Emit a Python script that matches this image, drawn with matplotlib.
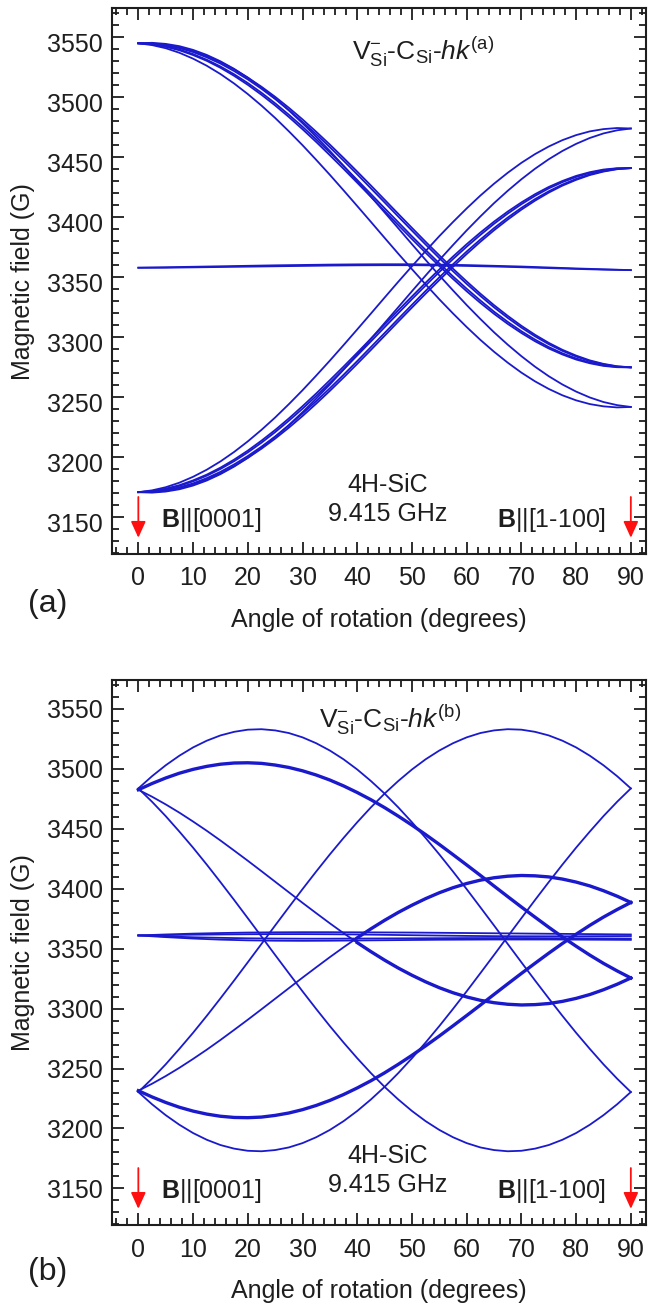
import matplotlib
matplotlib.use("Agg")
import matplotlib.pyplot as plt
from matplotlib.ticker import MultipleLocator
from matplotlib.transforms import ScaledTranslation

plt.rcParams['font.family'] = ['Liberation Sans', 'DejaVu Sans']
plt.rcParams['mathtext.fontset'] = 'custom'
plt.rcParams['mathtext.rm'] = 'Liberation Sans'
plt.rcParams['mathtext.it'] = 'Liberation Sans:italic'
plt.rcParams['mathtext.bf'] = 'Liberation Sans:bold'

# ---------------- data (angle in degrees, field in gauss) ----------------
angles_fine = [i * 2.5 for i in range(37)]      # 0, 2.5, ..., 90
angles_coarse = list(range(0, 91, 5))           # 0, 5, ..., 90

# panel (a): lines falling from B||c to B||[1-100]
a_down_303_1 = [3545.0, 3545.4, 3544.5, 3542.6, 3539.5, 3535.3, 3530.0, 3523.7, 3516.4, 3508.1,
                3499.0, 3489.1, 3478.4, 3467.1, 3455.3, 3442.9, 3430.2, 3417.3, 3404.1, 3390.9,
                3377.6, 3364.5, 3351.6, 3339.1, 3326.9, 3315.3, 3304.2, 3293.9, 3284.3, 3275.5,
                3267.6, 3260.7, 3254.8, 3249.9, 3246.1, 3243.5, 3242.0]
a_down_303_2 = [3545.0, 3543.5, 3540.9, 3537.1, 3532.2, 3526.3, 3519.4, 3511.5, 3502.7, 3493.1,
                3482.8, 3471.7, 3460.1, 3447.9, 3435.4, 3422.5, 3409.4, 3396.2, 3382.9, 3369.7,
                3356.8, 3344.1, 3331.7, 3319.9, 3308.6, 3297.9, 3288.0, 3278.9, 3270.6, 3263.3,
                3257.0, 3251.7, 3247.5, 3244.4, 3242.5, 3241.6, 3242.0]
a_down_270_1 = [3545.0, 3544.7, 3543.3, 3541.0, 3537.7, 3533.3, 3528.1, 3521.9, 3514.9, 3507.1,
                3498.6, 3489.4, 3479.5, 3469.2, 3458.4, 3447.2, 3435.8, 3424.1, 3412.4, 3400.6,
                3388.9, 3377.3, 3366.0, 3355.1, 3344.5, 3334.5, 3325.0, 3316.2, 3308.1, 3300.8,
                3294.3, 3288.7, 3284.0, 3280.2, 3277.5, 3275.7, 3275.0]
a_down_270_2 = [3545.0, 3544.3, 3542.5, 3539.8, 3536.0, 3531.3, 3525.7, 3519.2, 3511.9, 3503.8,
                3495.0, 3485.5, 3475.5, 3464.9, 3454.0, 3442.7, 3431.1, 3419.4, 3407.6, 3395.9,
                3384.2, 3372.8, 3361.6, 3350.8, 3340.5, 3330.7, 3321.4, 3312.9, 3305.1, 3298.1,
                3291.9, 3286.7, 3282.4, 3279.0, 3276.7, 3275.3, 3275.0]
a_down_270_3 = [3545.0, 3544.9, 3543.8, 3541.6, 3538.5, 3534.3, 3529.3, 3523.3, 3516.4, 3508.8,
                3500.4, 3491.3, 3481.6, 3471.3, 3460.6, 3449.5, 3438.1, 3426.5, 3414.7, 3402.9,
                3391.2, 3379.6, 3368.3, 3357.2, 3346.6, 3336.4, 3326.8, 3317.9, 3309.6, 3302.1,
                3295.4, 3289.6, 3284.8, 3280.8, 3277.9, 3275.9, 3275.0]
a_down_270_4 = [3545.0, 3544.1, 3542.1, 3539.2, 3535.2, 3530.4, 3524.6, 3517.9, 3510.4, 3502.1,
                3493.2, 3483.6, 3473.4, 3462.8, 3451.7, 3440.4, 3428.8, 3417.1, 3405.3, 3393.5,
                3381.9, 3370.5, 3359.4, 3348.7, 3338.4, 3328.7, 3319.6, 3311.2, 3303.6, 3296.7,
                3290.7, 3285.7, 3281.5, 3278.4, 3276.2, 3275.1, 3275.0]
# panel (a): lines rising
a_up_303_1 = [3171.0, 3170.6, 3171.5, 3173.4, 3176.5, 3180.7, 3186.0, 3192.3, 3199.6, 3207.9,
              3217.0, 3226.9, 3237.6, 3248.9, 3260.7, 3273.1, 3285.8, 3298.7, 3311.9, 3325.1,
              3338.4, 3351.5, 3364.4, 3376.9, 3389.1, 3400.7, 3411.8, 3422.1, 3431.7, 3440.5,
              3448.4, 3455.3, 3461.2, 3466.1, 3469.9, 3472.5, 3474.0]
a_up_303_2 = [3171.0, 3172.5, 3175.1, 3178.9, 3183.8, 3189.7, 3196.6, 3204.5, 3213.3, 3222.9,
              3233.2, 3244.3, 3255.9, 3268.1, 3280.6, 3293.5, 3306.6, 3319.8, 3333.1, 3346.3,
              3359.2, 3371.9, 3384.3, 3396.1, 3407.4, 3418.1, 3428.0, 3437.1, 3445.4, 3452.7,
              3459.0, 3464.3, 3468.5, 3471.6, 3473.5, 3474.4, 3474.0]
a_up_270_1 = [3171.0, 3171.3, 3172.7, 3175.0, 3178.3, 3182.7, 3187.9, 3194.1, 3201.1, 3208.9,
              3217.4, 3226.6, 3236.5, 3246.8, 3257.6, 3268.8, 3280.2, 3291.9, 3303.6, 3315.4,
              3327.1, 3338.7, 3350.0, 3360.9, 3371.5, 3381.5, 3391.0, 3399.8, 3407.9, 3415.2,
              3421.7, 3427.3, 3432.0, 3435.8, 3438.5, 3440.3, 3441.0]
a_up_270_2 = [3171.0, 3171.7, 3173.5, 3176.2, 3180.0, 3184.7, 3190.3, 3196.8, 3204.1, 3212.2,
              3221.0, 3230.5, 3240.5, 3251.1, 3262.0, 3273.3, 3284.9, 3296.6, 3308.4, 3320.1,
              3331.8, 3343.2, 3354.4, 3365.2, 3375.5, 3385.3, 3394.6, 3403.1, 3410.9, 3417.9,
              3424.1, 3429.3, 3433.6, 3437.0, 3439.3, 3440.7, 3441.0]
a_up_270_3 = [3171.0, 3171.1, 3172.2, 3174.4, 3177.5, 3181.7, 3186.7, 3192.7, 3199.6, 3207.2,
              3215.6, 3224.7, 3234.4, 3244.7, 3255.4, 3266.5, 3277.9, 3289.5, 3301.3, 3313.1,
              3324.8, 3336.4, 3347.7, 3358.8, 3369.4, 3379.6, 3389.2, 3398.1, 3406.4, 3413.9,
              3420.6, 3426.4, 3431.2, 3435.2, 3438.1, 3440.1, 3441.0]
a_up_270_4 = [3171.0, 3171.9, 3173.9, 3176.8, 3180.8, 3185.6, 3191.4, 3198.1, 3205.6, 3213.9,
              3222.8, 3232.4, 3242.6, 3253.2, 3264.3, 3275.6, 3287.2, 3298.9, 3310.7, 3322.5,
              3334.1, 3345.5, 3356.6, 3367.3, 3377.6, 3387.3, 3396.4, 3404.8, 3412.4, 3419.3,
              3425.3, 3430.3, 3434.5, 3437.6, 3439.8, 3440.9, 3441.0]
# panel (a): nearly isotropic lines (5-degree grid)
a_flat_1 = [3358.0, 3358.4, 3358.8, 3359.2, 3359.6, 3360.0, 3360.3, 3360.6, 3360.8, 3360.9,
            3360.9, 3360.6, 3360.2, 3359.6, 3359.0, 3358.2, 3357.4, 3356.7, 3356.0]
a_flat_2 = [3358.0, 3358.0, 3358.3, 3358.6, 3358.9, 3359.2, 3359.5, 3359.8, 3360.0, 3360.1,
            3360.1, 3359.9, 3359.5, 3359.0, 3358.4, 3357.7, 3357.0, 3356.4, 3356.0]

# panel (b): large arcs
b_arc_x = [3483.6, 3493.8, 3502.9, 3510.9, 3517.8, 3523.4, 3527.8, 3530.8, 3532.6, 3533.0,
           3532.0, 3529.8, 3526.2, 3521.3, 3515.2, 3507.9, 3499.4, 3489.8, 3479.3, 3467.8,
           3455.4, 3442.3, 3428.6, 3414.3, 3399.6, 3384.5, 3369.3, 3353.9, 3338.6, 3323.4,
           3308.5, 3293.9, 3279.8, 3266.4, 3253.5, 3241.5, 3230.4]
b_arc_y = [3230.4, 3220.2, 3211.1, 3203.1, 3196.2, 3190.6, 3186.2, 3183.2, 3181.4, 3181.0,
           3182.0, 3184.2, 3187.8, 3192.7, 3198.8, 3206.1, 3214.6, 3224.2, 3234.7, 3246.2,
           3258.6, 3271.7, 3285.4, 3299.7, 3314.4, 3329.5, 3344.7, 3360.1, 3375.4, 3390.6,
           3405.5, 3420.1, 3434.2, 3447.6, 3460.5, 3472.5, 3483.6]
b_arc_x2 = [3230.4, 3241.5, 3253.5, 3266.4, 3279.8, 3293.9, 3308.5, 3323.4, 3338.6, 3353.9,
            3369.3, 3384.5, 3399.6, 3414.3, 3428.6, 3442.3, 3455.4, 3467.8, 3479.3, 3489.8,
            3499.4, 3507.9, 3515.2, 3521.3, 3526.2, 3529.8, 3532.0, 3533.0, 3532.6, 3530.8,
            3527.8, 3523.4, 3517.8, 3510.9, 3502.9, 3493.8, 3483.6]
b_arc_y2 = [3483.6, 3472.5, 3460.5, 3447.6, 3434.2, 3420.1, 3405.5, 3390.6, 3375.4, 3360.1,
            3344.7, 3329.5, 3314.4, 3299.7, 3285.4, 3271.7, 3258.6, 3246.2, 3234.7, 3224.2,
            3214.6, 3206.1, 3198.8, 3192.7, 3187.8, 3184.2, 3182.0, 3181.0, 3181.4, 3183.2,
            3186.2, 3190.6, 3196.2, 3203.1, 3211.1, 3220.2, 3230.4]
# panel (b): doubled (thick) lines
b_thick_1 = [3482.5, 3487.7, 3492.3, 3496.3, 3499.5, 3502.0, 3503.8, 3504.8, 3505.0, 3504.5,
             3503.1, 3501.1, 3498.3, 3494.8, 3490.6, 3485.7, 3480.2, 3474.2, 3467.6, 3460.5,
             3453.0, 3445.1, 3436.9, 3428.4, 3419.8, 3411.1, 3402.2, 3393.4, 3384.7, 3376.2,
             3367.8, 3359.7, 3352.0, 3344.6, 3337.7, 3331.4, 3325.5]
b_thick_2 = [3231.5, 3226.3, 3221.7, 3217.7, 3214.5, 3212.0, 3210.2, 3209.2, 3209.0, 3209.5,
             3210.9, 3212.9, 3215.7, 3219.2, 3223.4, 3228.3, 3233.8, 3239.8, 3246.4, 3253.5,
             3261.0, 3268.9, 3277.1, 3285.6, 3294.2, 3302.9, 3311.8, 3320.6, 3329.3, 3337.8,
             3346.2, 3354.3, 3362.0, 3369.4, 3376.3, 3382.6, 3388.5]
# panel (b): lines crossing the centre near 40 degrees
b_cross_1 = [3482.5, 3476.7, 3470.3, 3463.4, 3456.0, 3448.3, 3440.2, 3431.8, 3423.3, 3414.6,
             3405.8, 3397.0, 3388.2, 3379.6, 3371.1, 3362.9, 3355.0, 3347.5, 3340.4, 3333.8,
             3327.8, 3322.3, 3317.4, 3313.2, 3309.7, 3306.9, 3304.9, 3303.6, 3303.0, 3303.3,
             3304.2, 3306.0, 3308.5, 3311.7, 3315.7, 3320.3, 3325.5]
b_cross_2 = [3231.5, 3237.3, 3243.7, 3250.6, 3258.0, 3265.7, 3273.8, 3282.2, 3290.7, 3299.4,
             3308.2, 3317.0, 3325.8, 3334.4, 3342.9, 3351.1, 3359.0, 3366.5, 3373.6, 3380.2,
             3386.2, 3391.7, 3396.6, 3400.8, 3404.3, 3407.1, 3409.1, 3410.4, 3411.0, 3410.7,
             3409.8, 3408.0, 3405.5, 3402.3, 3398.3, 3393.7, 3388.5]
# panel (b): nearly isotropic lines (5-degree grid)
b_flat_1 = [3361.0, 3361.8, 3362.5, 3363.0, 3363.4, 3363.6, 3363.7, 3363.7, 3363.6, 3363.5,
            3363.4, 3363.2, 3363.0, 3362.8, 3362.6, 3362.4, 3362.2, 3362.0, 3361.8]
b_flat_2 = [3361.0, 3361.3, 3361.6, 3361.8, 3362.0, 3362.1, 3362.1, 3362.0, 3361.8, 3361.5,
            3361.2, 3360.9, 3360.6, 3360.4, 3360.3, 3360.3, 3360.3, 3360.4, 3360.5]
b_flat_3 = [3361.0, 3360.2, 3359.5, 3359.0, 3358.6, 3358.4, 3358.3, 3358.3, 3358.4, 3358.5,
            3358.6, 3358.7, 3358.8, 3358.8, 3358.8, 3358.7, 3358.6, 3358.5, 3358.4]
b_flat_4 = [3361.0, 3359.6, 3358.4, 3357.5, 3356.9, 3356.6, 3356.5, 3356.6, 3356.8, 3357.0,
            3357.2, 3357.4, 3357.5, 3357.6, 3357.6, 3357.6, 3357.5, 3357.4, 3357.3]

x_ticks = [0, 10, 20, 30, 40, 50, 60, 70, 80, 90]
y_ticks = [3150, 3200, 3250, 3300, 3350, 3400, 3450, 3500, 3550]

LINE = '#1a1acc'
TXT = '#1e1e1e'
FS = 18

fig = plt.figure(figsize=(6.56, 13.05), dpi=100)
ax_a = fig.add_axes([0.170, 0.5755, 0.815, 0.418])
ax_b = fig.add_axes([0.170, 0.0613, 0.815, 0.4176])


def style(ax):
    ax.set_xlim(-4.9, 92.8)
    ax.set_ylim(3119.5, 3574)
    ax.set_xticks(x_ticks)
    ax.set_yticks(y_ticks)
    ax.xaxis.set_minor_locator(MultipleLocator(2))
    ax.yaxis.set_minor_locator(MultipleLocator(10))
    ax.tick_params(which='both', direction='in', top=True, right=True,
                   colors=TXT, labelsize=FS, width=1.3)
    ax.tick_params(which='major', length=8.5)
    ax.tick_params(which='minor', length=5)
    ax.tick_params(axis='x', pad=9)
    ax.tick_params(axis='y', pad=6)
    for s in ax.spines.values():
        s.set_linewidth(1.5)
        s.set_color(TXT)
    ax.set_ylabel('Magnetic field (G)', fontsize=FS, color=TXT, labelpad=9)
    ax.set_xlabel('Angle of rotation (degrees)', fontsize=FS, color=TXT, labelpad=12.5)


def annotate_common(ax):
    ax.text(45.5, 3177, '4H-SiC', ha='center', va='center', fontsize=FS, color=TXT)
    ax.text(45.5, 3153, '9.415 GHz', ha='center', va='center', fontsize=FS, color=TXT)
    ax.text(4.2, 3147.5, r'$\mathbf{B}$||[0001]', ha='left', va='center', fontsize=FS, color=TXT)
    ax.text(85.4, 3147.5, r'$\mathbf{B}$||[1-100]', ha='right', va='center', fontsize=FS, color=TXT)
    for xa in (0, 90):
        ax.annotate('', xy=(xa, 3133), xytext=(xa, 3167),
                    arrowprops=dict(arrowstyle='-|>,head_length=0.55,head_width=0.25',
                                    color='#ff1010', lw=1.3, mutation_scale=18,
                                    shrinkA=0, shrinkB=0))


# ---- panel (a)
for ser in (a_down_303_1, a_down_303_2, a_down_270_1, a_down_270_2, a_down_270_3, a_down_270_4,
            a_up_303_1, a_up_303_2, a_up_270_1, a_up_270_2, a_up_270_3, a_up_270_4):
    ax_a.plot(angles_fine, ser, color=LINE, lw=1.3)
for ser in (a_flat_1, a_flat_2):
    ax_a.plot(angles_coarse, ser, color=LINE, lw=1.3)
style(ax_a)
annotate_common(ax_a)
ax_a.text(52, 3538, r'V$_{\mathrm{Si}}^{-}$-C$_{\mathrm{Si}}$-$hk^{\mathrm{(a)}}$',
          ha='center', va='center', fontsize=19, color=TXT)
fig.text(0.072, 1 - 604 / 1305, '(a)', ha='center', va='center', fontsize=23, color=TXT)
# the y tick labels of the upper panel sit a few pixels below their ticks in the original
shift = ScaledTranslation(0, -0.05, fig.dpi_scale_trans)
for lab in ax_a.get_yticklabels():
    lab.set_transform(lab.get_transform() + shift)

# ---- panel (b)
for ser in (b_arc_x, b_arc_y, b_arc_x2, b_arc_y2, b_cross_1, b_cross_2):
    ax_b.plot(angles_fine, ser, color=LINE, lw=1.3)
for ser in (b_flat_1, b_flat_2, b_flat_3, b_flat_4):
    ax_b.plot(angles_coarse, ser, color=LINE, lw=1.3)
for ser in (b_thick_1, b_thick_2):
    ax_b.plot(angles_fine, ser, color=LINE, lw=2.4)
for ser in (b_cross_1, b_cross_2):
    ax_b.plot(angles_fine[16:], ser[16:], color=LINE, lw=2.4)
style(ax_b)
annotate_common(ax_b)
ax_b.text(46, 3541, r'V$_{\mathrm{Si}}^{-}$-C$_{\mathrm{Si}}$-$hk^{\mathrm{(b)}}$',
          ha='center', va='center', fontsize=19, color=TXT)
fig.text(0.072, 1 - 1272 / 1305, '(b)', ha='center', va='center', fontsize=23, color=TXT)

fig.savefig('out.png', dpi=100)
